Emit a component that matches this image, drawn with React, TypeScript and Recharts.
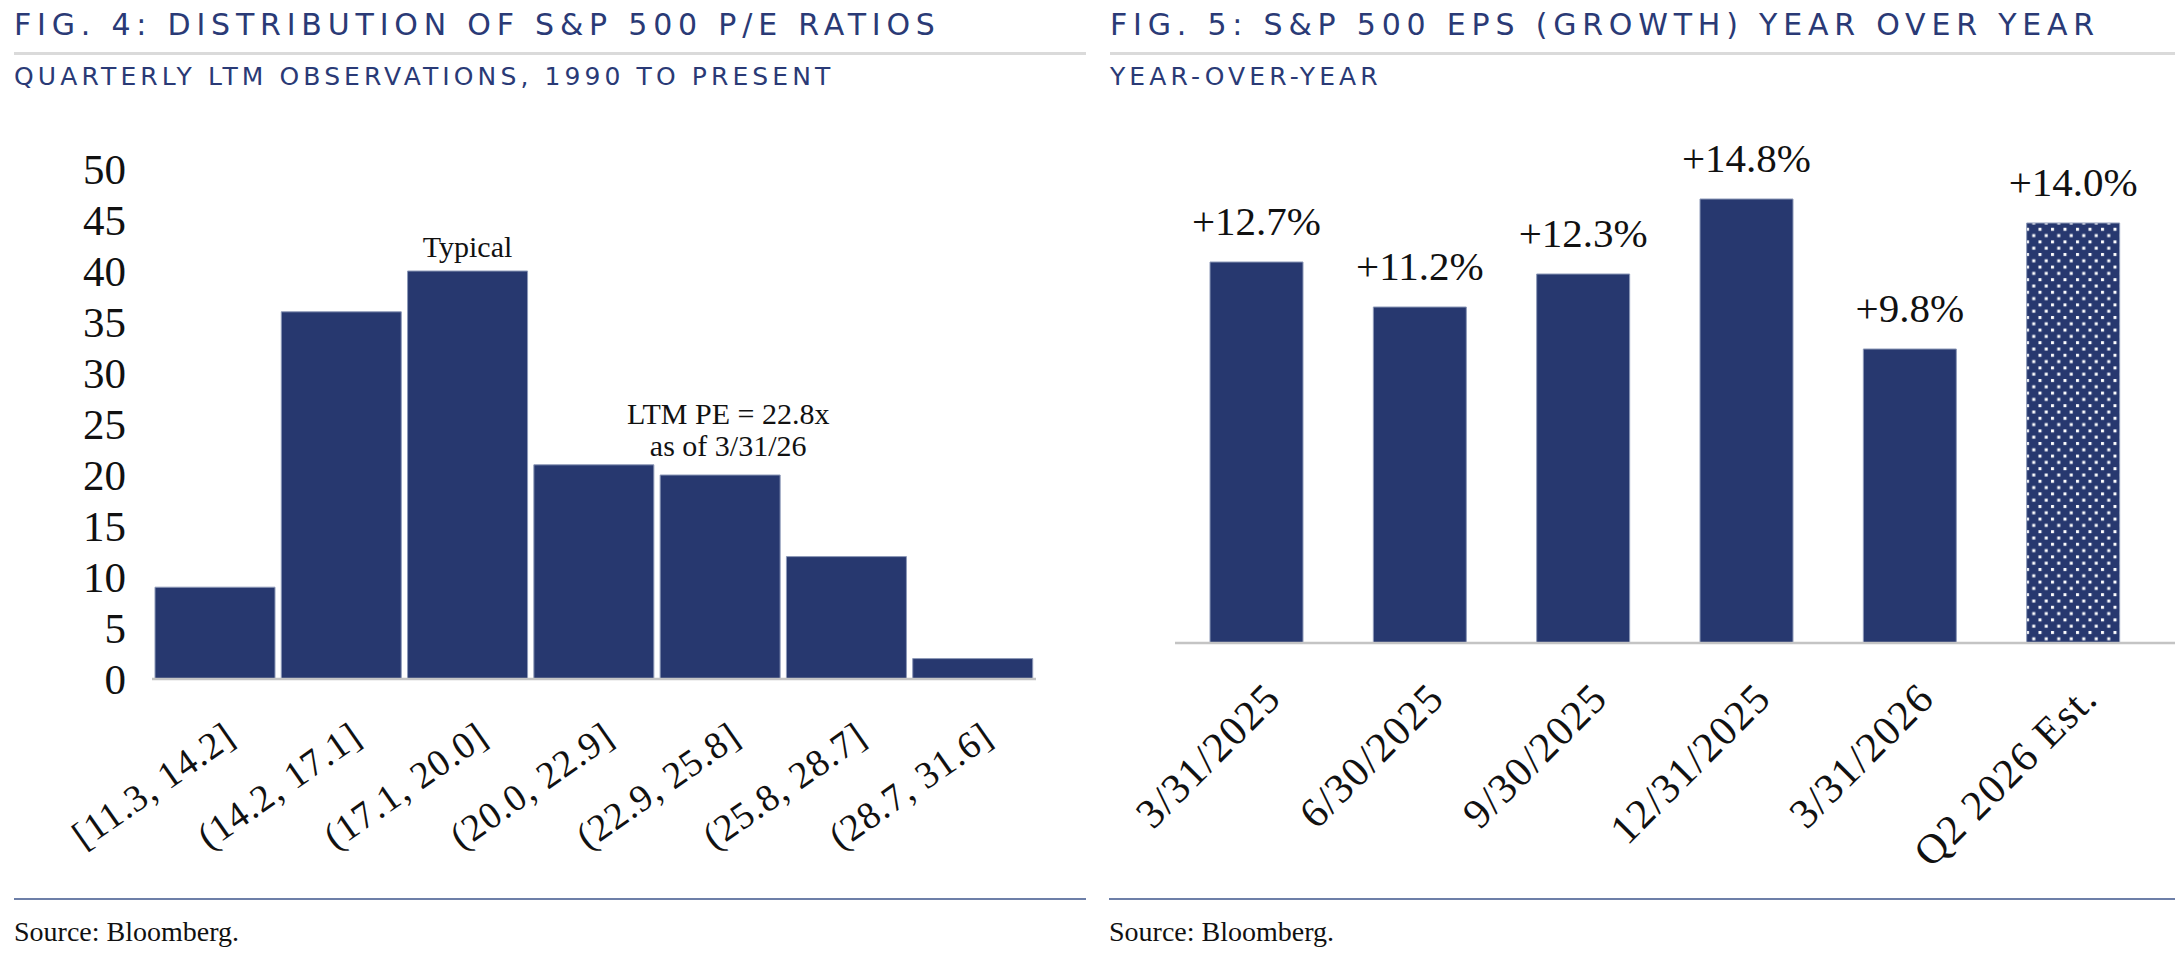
import React from 'react'
import { BarChart, Bar, XAxis, YAxis, LabelList, Cell } from 'recharts'

// Fig. 4 - distribution of quarterly LTM P/E, 1990 to present
const peBins = ['[11.3, 14.2]', '(14.2, 17.1]', '(17.1, 20.0]', '(20.0, 22.9]', '(22.9, 25.8]', '(25.8, 28.7]', '(28.7, 31.6]']
const peCounts = [9, 36, 40, 21, 20, 12, 2]
const peNotes = ['', '', 'Typical', '', 'LTM PE = 22.8x|as of 3/31/26', '', '']
const peTicks = [0, 5, 10, 15, 20, 25, 30, 35, 40, 45, 50]

// Fig. 5 - S&P 500 EPS growth, year over year
const epsDates = ['3/31/2025', '6/30/2025', '9/30/2025', '12/31/2025', '3/31/2026', 'Q2 2026 Est.']
const epsGrowth = [12.7, 11.2, 12.3, 14.8, 9.8, 14.0]
const epsEstimate = [false, false, false, false, false, true]

const NAVY = '#27386f'
const TITLE = '#2a3a76'
const SERIF = "'Liberation Serif', 'Times New Roman', serif"
const SANS = "'DejaVu Sans', 'Liberation Sans', sans-serif"

const peRows = peBins.map((bin, i) => ({ bin, count: peCounts[i], note: peNotes[i] }))
const epsRows = epsDates.map((date, i) => ({ date, growth: epsGrowth[i], est: epsEstimate[i] }))

const titleStyle: React.CSSProperties = {
    position: 'absolute', top: 10, fontFamily: SANS, fontSize: 30, lineHeight: '30px',
    letterSpacing: 5.8, color: TITLE, whiteSpace: 'nowrap',
}
const subStyle: React.CSSProperties = {
    position: 'absolute', top: 64, fontFamily: SANS, fontSize: 25, lineHeight: '25px',
    letterSpacing: 4.1, color: TITLE, whiteSpace: 'nowrap',
}
const sourceStyle: React.CSSProperties = {
    position: 'absolute', top: 918, fontFamily: SERIF, fontSize: 28, lineHeight: '28px',
    color: '#111', whiteSpace: 'nowrap',
}

function PeTick({ x, y, payload }: any) {
    return (
        <g transform={`translate(${x + 15},${y + 44})`}>
            <text textAnchor="end" transform="rotate(-35)" dy="0.35em" fontFamily={SERIF} fontSize={38} letterSpacing={1} fill="#111">
                {payload.value}
            </text>
        </g>
    )
}

function EpsTick({ x, y, payload }: any) {
    return (
        <g transform={`translate(${x + 16},${y + 39})`}>
            <text textAnchor="end" transform="rotate(-45)" dy="0.35em" fontFamily={SERIF} fontSize={42} letterSpacing={1.5} fill="#111">
                {payload.value}
            </text>
        </g>
    )
}

function NoteLabel(props: any) {
    const vb = props.viewBox && props.viewBox.width !== undefined ? props.viewBox : props
    const { x, y, width } = vb
    const value: string = props.value || ''
    if (!value) return null
    const lines = value.split('|')
    const cx = x + width / 2 + (lines.length > 1 ? 8 : 0)
    const base = y - (lines.length > 1 ? 19 : 14)
    return (
        <text textAnchor="middle" fontFamily={SERIF} fontSize={30} fill="#111">
            {lines.map((l, i) => (
                <tspan key={i} x={cx} y={base - (lines.length - 1 - i) * 32}>{l}</tspan>
            ))}
        </text>
    )
}

function PeChart() {
    return (
        <BarChart width={1090} height={958} data={peRows} barCategoryGap={3}
            margin={{ top: 169, right: 54, bottom: 219, left: 0 }}>
            <YAxis width={152} domain={[0, 50]} ticks={peTicks} interval={0} tickLine={false} axisLine={false}
                tickMargin={20} tick={{ fontFamily: SERIF, fontSize: 43, fill: '#111' }} />
            <XAxis dataKey="bin" height={60} interval={0} tickLine={false} tick={<PeTick />}
                axisLine={{ stroke: '#c4c4c4', strokeWidth: 2.5 }} />
            <Bar dataKey="count" fill={NAVY} stroke="#8d99b8" strokeWidth={1} isAnimationActive={false}>
                <LabelList dataKey="note" content={NoteLabel} />
            </Bar>
        </BarChart>
    )
}

function EpsChart() {
    return (
        <BarChart width={1075} height={958} data={epsRows} barCategoryGap={35}
            margin={{ top: 163, right: 0, bottom: 255, left: 75 }}>
            <defs>
                <pattern id="estDots" width={12.5} height={12.6} patternUnits="userSpaceOnUse">
                    <rect width={12.5} height={12.6} fill={NAVY} />
                    <rect x={1} y={1} width={3} height={3} fill="#fff" />
                    <rect x={7.25} y={7.3} width={3} height={3} fill="#fff" />
                </pattern>
            </defs>
            <YAxis hide domain={[0, 16]} />
            <XAxis dataKey="date" height={60} interval={0} tickLine={false} tick={<EpsTick />}
                padding={{ left: 0, right: 20 }} axisLine={{ stroke: '#c4c4c4', strokeWidth: 2.5 }} />
            <Bar dataKey="growth" fill={NAVY} stroke="#8d99b8" strokeWidth={1} isAnimationActive={false}>
                {epsRows.map((r, i) => (
                    <Cell key={i} fill={r.est ? 'url(#estDots)' : NAVY} />
                ))}
                <LabelList dataKey="growth" position="top" offset={27}
                    formatter={(v: any) => `+${Number(v).toFixed(1)}%`}
                    style={{ fontFamily: SERIF, fontSize: 41, fill: '#111' }} />
            </Bar>
        </BarChart>
    )
}

export default function App() {
    return (
        <div style={{ position: 'absolute', left: 0, top: 0, width: 2175, height: 958, background: '#fff', overflow: 'hidden' }}>
            {/* left panel */}
            <div style={{ ...titleStyle, left: 14 }}>FIG. 4: DISTRIBUTION OF S&amp;P 500 P/E RATIOS</div>
            <div style={{ position: 'absolute', left: 14, top: 52, width: 1072, height: 3, background: '#dadada' }} />
            <div style={{ ...subStyle, left: 14 }}>QUARTERLY LTM OBSERVATIONS, 1990 TO PRESENT</div>
            <div style={{ position: 'absolute', left: 0, top: 0 }}>
                <PeChart />
            </div>
            <div style={{ position: 'absolute', left: 14, top: 898, width: 1072, height: 2, background: '#6d7fa8' }} />
            <div style={{ ...sourceStyle, left: 14 }}>Source: Bloomberg.</div>

            {/* right panel */}
            <div style={{ ...titleStyle, left: 1110 }}>FIG. 5: S&amp;P 500 EPS (GROWTH) YEAR OVER YEAR</div>
            <div style={{ position: 'absolute', left: 1110, top: 52, width: 1065, height: 3, background: '#dadada' }} />
            <div style={{ ...subStyle, left: 1110 }}>YEAR-OVER-YEAR</div>
            <div style={{ position: 'absolute', left: 1100, top: 0 }}>
                <EpsChart />
            </div>
            <div style={{ position: 'absolute', left: 1109, top: 898, width: 1066, height: 2, background: '#6d7fa8' }} />
            <div style={{ ...sourceStyle, left: 1109 }}>Source: Bloomberg.</div>
        </div>
    )
}
